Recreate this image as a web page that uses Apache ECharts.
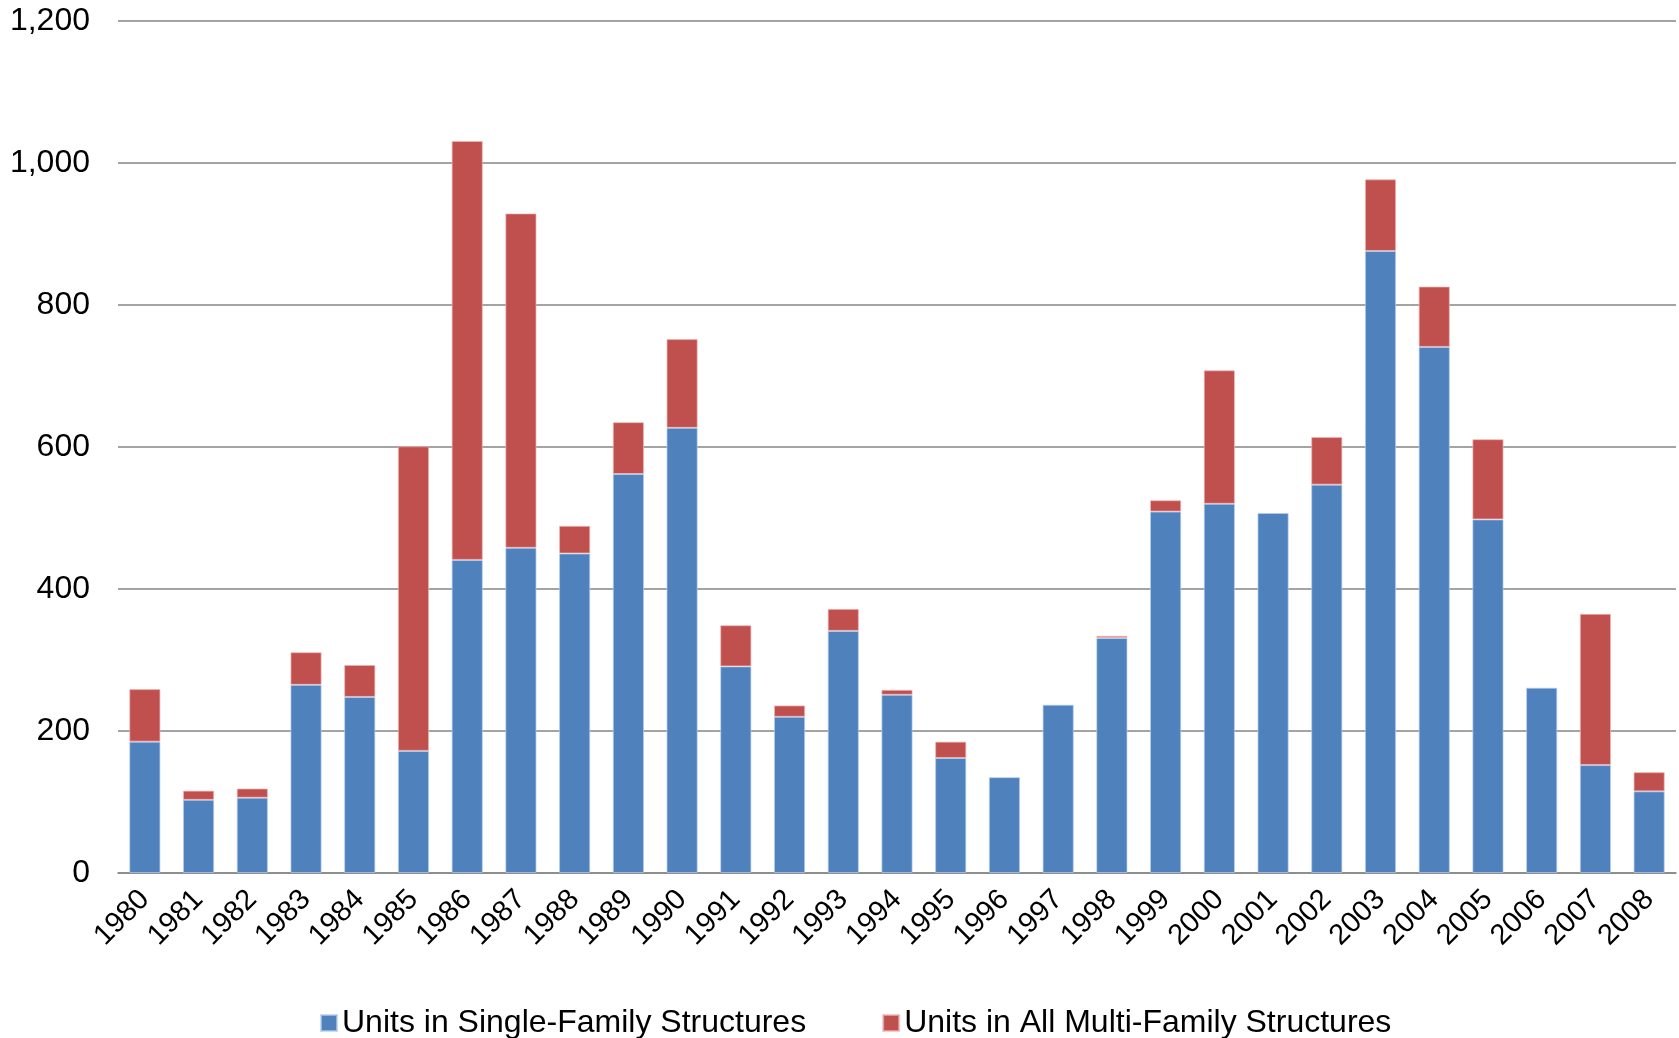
<!DOCTYPE html>
<html>
<head>
<meta charset="utf-8">
<style>
  html, body { margin: 0; padding: 0; background: #ffffff; }
  #chart { width: 1679px; height: 1038px; }
</style>
<script src="https://cdn.jsdelivr.net/npm/echarts@6/dist/echarts.min.js"></script>
</head>
<body>
<div id="chart"></div>
<script>
// Housing units by year, split by structure type
const years = ['1980','1981','1982','1983','1984','1985','1986','1987','1988','1989',
  '1990','1991','1992','1993','1994','1995','1996','1997','1998','1999',
  '2000','2001','2002','2003','2004','2005','2006','2007','2008'];

const singleFamily = [185, 103, 106, 265, 248, 172, 441, 458, 450, 562,
  627, 291, 220, 341, 251, 162, 135, 237, 331, 509,
  520, 507, 547, 876, 741, 498, 261, 152, 115];

const multiFamily = [74, 13, 13, 46, 45, 429, 590, 471, 39, 73,
  125, 58, 16, 31, 7, 23, 0, 0, 3, 16,
  188, 0, 67, 101, 85, 113, 0, 213, 27];

const seriesNames = ['Units in Single-Family Structures', 'Units in All Multi-Family Structures'];
const yTicks = { min: 0, max: 1200, interval: 200 };

const FONT = '"Liberation Sans", Arial, sans-serif';

// zero-height segments are left out so no border sliver is drawn for them
const asBars = arr => arr.map(v => (v === 0 ? '-' : v));

const chart = echarts.init(document.getElementById('chart'), null, { renderer: 'canvas' });

chart.setOption({
  animation: false,
  backgroundColor: '#ffffff',
  textStyle: { fontFamily: FONT },
  grid: { left: 118, right: 3, top: 21, bottom: 165, containLabel: false },
  legend: {
    data: seriesNames,
    left: 315,
    top: 1002,
    itemWidth: 16,
    itemHeight: 16,
    itemGap: 76,
    icon: 'rect',
    textStyle: { fontFamily: FONT, fontSize: 32, color: '#000000' }
  },
  xAxis: {
    type: 'category',
    data: years,
    axisLine: { show: true, lineStyle: { color: '#868686', width: 1.5 } },
    axisTick: { show: false },
    axisLabel: {
      rotate: 45,
      margin: 22,
      interval: 0,
      fontFamily: FONT,
      fontSize: 29,
      color: '#000000'
    }
  },
  yAxis: {
    type: 'value',
    min: yTicks.min,
    max: yTicks.max,
    interval: yTicks.interval,
    axisLine: { show: false },
    axisTick: { show: false },
    splitLine: { lineStyle: { color: '#868686', width: 1.5 } },
    axisLabel: {
      margin: 28,
      fontFamily: FONT,
      fontSize: 32,
      color: '#000000',
      formatter: v => v.toLocaleString('en-US')
    }
  },
  series: [
    {
      name: seriesNames[0],
      type: 'bar',
      stack: 'units',
      data: asBars(singleFamily),
      barWidth: '58%',
      itemStyle: { color: '#4F81BD', borderColor: 'rgba(180,205,240,0.7)', borderWidth: 1 }
    },
    {
      name: seriesNames[1],
      type: 'bar',
      stack: 'units',
      data: asBars(multiFamily),
      barWidth: '58%',
      itemStyle: { color: '#C0504D', borderColor: 'rgba(240,180,180,0.7)', borderWidth: 1 }
    }
  ]
});
</script>
</body>
</html>
